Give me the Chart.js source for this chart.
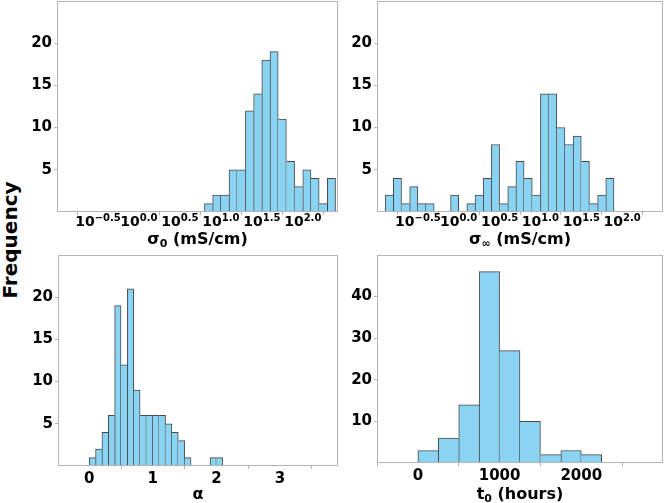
<!DOCTYPE html>
<html>
<head>
<meta charset="utf-8">
<script src="https://cdn.jsdelivr.net/npm/chart.js@4.4.0/dist/chart.umd.min.js"></script>
<style>
    body { margin: 0; background: #fff; width: 664px; height: 503px; position: relative; overflow: hidden; }
    canvas { position: absolute; }
    #ylab {
        position: absolute; left: 10px; top: 240px;
        transform: translate(-50%, -50%) rotate(-90deg);
        font: bold 20px "DejaVu Sans"; white-space: nowrap; color: #000;
    }
</style>
</head>
<body>
<div id="ylab">Frequency</div>
<canvas id="c1" width="320" height="250" style="left:20px;top:0"></canvas>
<canvas id="c2" width="324" height="250" style="left:340px;top:0"></canvas>
<canvas id="c3" width="320" height="253" style="left:20px;top:250px"></canvas>
<canvas id="c4" width="324" height="253" style="left:340px;top:250px"></canvas>
<script>
// histogram data (bin start values and counts)
const sigma0BinStarts = [0.8, 0.9, 1.0, 1.1, 1.2, 1.3, 1.4, 1.5, 1.6, 1.7, 1.8, 1.9, 2.0, 2.1, 2.2, 2.3];
const sigma0Counts = [1, 2, 2, 5, 5, 12, 14, 18, 19, 11, 6, 3, 5, 4, 1, 4];

const sigmaInfBinStarts = [-0.9, -0.8, -0.7, -0.6, -0.5, -0.4, -0.3, -0.2, -0.1, 0.0, 0.1, 0.2, 0.3, 0.4,
    0.5, 0.6, 0.7, 0.8, 0.9, 1.0, 1.1, 1.2, 1.3, 1.4, 1.5, 1.6, 1.7, 1.8];
const sigmaInfCounts = [2, 4, 1, 3, 1, 1, 0, 0, 2, 0, 1, 2, 4, 8, 1, 3, 6, 4, 2, 14, 14, 10, 8, 9, 6, 1, 2, 4];

const alphaBinStarts = [0.0, 0.1, 0.2, 0.3, 0.4, 0.5, 0.6, 0.7, 0.8, 0.9, 1.0, 1.1, 1.2, 1.3, 1.4, 1.5,
    1.6, 1.7, 1.8, 1.9, 2.0];
const alphaCounts = [1, 2, 4, 6, 19, 12, 21, 9, 6, 6, 6, 6, 5, 4, 3, 1, 0, 0, 0, 1, 1];

const t0BinStarts = [0, 250, 500, 750, 1000, 1250, 1500, 1750, 2000];
const t0Counts = [3, 6, 14, 46, 27, 10, 2, 3, 2];

const logTicks = [-0.5, 0, 0.5, 1, 1.5, 2];
const logTickLabels = ['\u22120.5', '0.0', '0.5', '1.0', '1.5', '2.0'];
const alphaTicks = [0, 1, 2, 3];
const t0Ticks = [0, 1000, 2000];
const countTicks = [5, 10, 15, 20];
const t0CountTicks = [10, 20, 30, 40];

const FONT = '"DejaVu Sans"';
const BAR_FILL = '#8ad3f2';
const BAR_EDGE = 'rgba(40,40,40,0.85)';
const FRAME = '#b4b4b4';

// one edge line between neighbouring bars, owned by the taller one
function edgeWidths(counts, i) {
    const h = counts[i];
    if (!h) return 0;
    const left = (i === 0 || counts[i - 1] < h) ? 1 : 0;
    const right = (i === counts.length - 1 || counts[i + 1] <= h) ? 1 : 0;
    return { top: 1, bottom: 0, left, right };
}

const framePlugin = {
    id: 'frame',
    afterDraw(chart, args, opts) {
        const { ctx, chartArea: a } = chart;
        ctx.save();
        ctx.strokeStyle = FRAME;
        ctx.lineWidth = 1;
        ctx.strokeRect(Math.round(a.left) + 0.5, Math.round(a.top) + 0.5,
            Math.round(a.right - a.left) - 1, Math.round(a.bottom - a.top) - 1);

        // log tick labels as 10^x
        if (opts.logLabels) {
            const xs = chart.scales.x;
            opts.logTicks.forEach((v, i) => {
                const x = xs.getPixelForValue(v);
                ctx.font = 'bold 14px ' + FONT;
                const wb = ctx.measureText('10').width;
                ctx.font = 'bold 10px ' + FONT;
                const ws = ctx.measureText(opts.logLabels[i]).width;
                const x0 = x - (wb + ws) / 2;
                ctx.fillStyle = '#000';
                ctx.textBaseline = 'middle';
                ctx.textAlign = 'left';
                ctx.font = 'bold 14px ' + FONT;
                ctx.fillText('10', x0, a.bottom + 10);
                ctx.font = 'bold 10px ' + FONT;
                ctx.fillText(opts.logLabels[i], x0 + wb, a.bottom + 6);
            });
        }

        // axis title with optional subscript
        const t = opts.title;
        ctx.fillStyle = '#000';
        ctx.textBaseline = 'middle';
        ctx.textAlign = 'left';
        ctx.font = 'bold 16px ' + FONT;
        const w1 = ctx.measureText(t.main).width;
        const w3 = ctx.measureText(t.rest).width;
        ctx.font = 'bold 11px ' + FONT;
        const w2 = t.sub ? ctx.measureText(t.sub).width : 0;
        let x = (a.left + a.right) / 2 - (w1 + w2 + w3) / 2;
        const y = a.bottom + opts.titleOffset;
        ctx.font = 'bold 16px ' + FONT;
        ctx.fillText(t.main, x, y);
        x += w1;
        if (t.sub) {
            ctx.font = 'bold 11px ' + FONT;
            ctx.fillText(t.sub, x, y + 4);
            x += w2;
        }
        ctx.font = 'bold 16px ' + FONT;
        ctx.fillText(t.rest, x, y);
        ctx.restore();
    }
};

function histChart(id, cfg) {
    const data = cfg.starts.map((s, i) => ({ x: s + cfg.binWidth / 2, y: cfg.counts[i] }));
    const tickFont = { family: FONT, weight: 'bold', size: 15 };
    return new Chart(document.getElementById(id), {
        type: 'bar',
        data: {
            datasets: [{
                data: data,
                backgroundColor: BAR_FILL,
                borderColor: BAR_EDGE,
                borderSkipped: false,
                borderWidth: ctx => edgeWidths(cfg.counts, ctx.dataIndex),
                barPercentage: 1,
                categoryPercentage: 1,
                grouped: false
            }]
        },
        options: {
            responsive: false,
            animation: false,
            layout: { padding: cfg.pad },
            plugins: {
                legend: { display: false },
                tooltip: { enabled: false },
                frame: { logLabels: cfg.logLabels, logTicks: cfg.xTicks, title: cfg.title, titleOffset: cfg.titleOffset }
            },
            scales: {
                x: {
                    type: 'linear',
                    min: cfg.xMin,
                    max: cfg.xMax,
                    offset: false,
                    afterBuildTicks: s => { s.ticks = cfg.xTicks.map(v => ({ value: v })); },
                    afterFit: s => { s.height = cfg.xHeight; s.paddingLeft = 0; s.paddingRight = 0; },
                    grid: { display: true, drawOnChartArea: false, drawTicks: true, tickLength: 3, color: FRAME },
                    border: { display: false },
                    ticks: {
                        display: !cfg.logLabels,
                        font: tickFont, color: '#000', padding: 1,
                        maxRotation: 0, autoSkip: false,
                        callback: v => String(v)
                    }
                },
                y: {
                    min: 0,
                    max: cfg.yMax,
                    afterBuildTicks: s => { s.ticks = cfg.yTicks.map(v => ({ value: v })); },
                    afterFit: s => { s.width = cfg.yWidth; s.paddingTop = 0; s.paddingBottom = 0; },
                    grid: { display: true, drawOnChartArea: false, drawTicks: true, tickLength: 3, color: FRAME },
                    border: { display: false },
                    ticks: { font: tickFont, color: '#000', padding: 2, callback: v => String(v) }
                }
            }
        },
        plugins: [framePlugin]
    });
}

histChart('c1', {
    starts: sigma0BinStarts, counts: sigma0Counts, binWidth: 0.1,
    xMin: -1.0, xMax: 2.43, xTicks: logTicks, logLabels: logTickLabels,
    yMax: 25, yTicks: countTicks,
    pad: { top: 1, right: 2, left: 0, bottom: 0 }, yWidth: 37, xHeight: 38,
    title: { main: '\u03c3', sub: '0', rest: ' (mS/cm)' }, titleOffset: 28
});

histChart('c2', {
    starts: sigmaInfBinStarts, counts: sigmaInfCounts, binWidth: 0.1,
    xMin: -1.0, xMax: 2.5, xTicks: logTicks, logLabels: logTickLabels,
    yMax: 25, yTicks: countTicks,
    pad: { top: 1, right: 1, left: 0, bottom: 0 }, yWidth: 37, xHeight: 38,
    title: { main: '\u03c3', sub: '\u221e', rest: ' (mS/cm)' }, titleOffset: 28
});

histChart('c3', {
    starts: alphaBinStarts, counts: alphaCounts, binWidth: 0.1,
    xMin: -0.49, xMax: 3.91, xTicks: alphaTicks, logLabels: null,
    yMax: 25, yTicks: countTicks,
    pad: { top: 5, right: 2, left: 0, bottom: 0 }, yWidth: 38, xHeight: 37,
    title: { main: '\u03b1', sub: '', rest: '' }, titleOffset: 29
});

histChart('c4', {
    starts: t0BinStarts, counts: t0Counts, binWidth: 250,
    xMin: -500, xMax: 3000, xTicks: t0Ticks, logLabels: null,
    yMax: 50, yTicks: t0CountTicks,
    pad: { top: 5, right: 1, left: 0, bottom: 0 }, yWidth: 37, xHeight: 40,
    title: { main: 't', sub: '0', rest: ' (hours)' }, titleOffset: 32
});
</script>
</body>
</html>
